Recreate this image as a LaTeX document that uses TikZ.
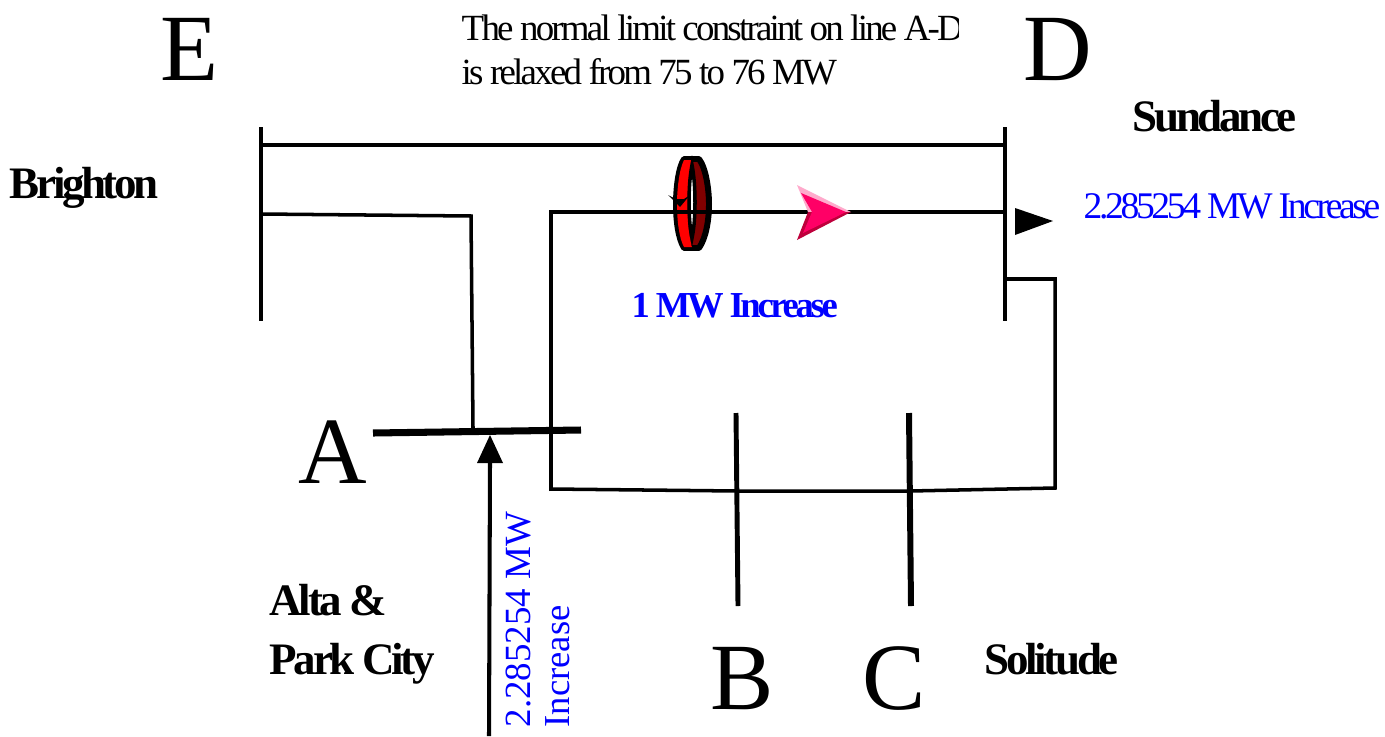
\documentclass[tikz,border=0pt]{standalone}
\usepackage{fontspec}
\setmainfont{Liberation Serif}
\newfontfamily\tightfont[LetterSpace=-7.5]{Liberation Serif}
\newfontfamily\tighterfont[LetterSpace=-9]{Liberation Serif}
\definecolor{ringdark}{RGB}{128,0,0}
\definecolor{pointer}{RGB}{255,0,102}
\definecolor{pointerlight}{RGB}{255,170,204}
\definecolor{pointerdark}{RGB}{190,0,60}
\begin{document}
\begin{tikzpicture}[x=0.01cm,y=-0.01cm,
  busbar/.style={line width=1.4pt},
  wire/.style={line width=1pt},
  bigletter/.style={anchor=base west,inner sep=0,font=\fontsize{27}{32}\selectfont},
  place/.style={anchor=base west,inner sep=0,font=\fontsize{12.8}{15}\selectfont\tightfont\bfseries},
  note/.style={anchor=base west,inner sep=0,font=\fontsize{10.5}{12.6}\selectfont\tightfont},
  bluenote/.style={note,text=blue}]
\useasboundingbox (0,0) rectangle (1385,736);
\coordinate (Etop) at (261,127);
\coordinate (Ebot) at (261,321);
\coordinate (Dtop) at (1005,127);
\coordinate (Dbot) at (1005,321);
\coordinate (Eup) at (261,145);
\coordinate (Dup) at (1005,145);
\coordinate (Emid) at (261,214);
\coordinate (Aleft) at (373,433);
\coordinate (Aright) at (581,430);
\coordinate (Ain) at (473,428);
\coordinate (Aout) at (551,491);
\coordinate (Dmid) at (1005,212);
\coordinate (Dlow) at (1005,279);
\coordinate (Btop) at (736,413);
\coordinate (Bbot) at (738,606);
\coordinate (Bmid) at (737,491);
\coordinate (Ctop) at (909,413);
\coordinate (Cbot) at (911,606);
\coordinate (Cmid) at (910,491);
\coordinate (Afeed) at (489,736);
\coordinate (Atip) at (490,435);
% buses
\draw[busbar] (Etop)--(Ebot);
\draw[busbar] (Dtop)--(Dbot);
\draw[line width=2pt] (Aleft)--(Aright);
\draw[busbar] (Btop)--(Bbot);
\draw[line width=1.7pt] (Ctop)--(Cbot);
% lines
\draw[wire] (Eup)--(Dup);
\draw[wire] (Emid)--(471,216)--(Ain);
\draw[wire] (Aout)--(551,212)--(Dmid);
\draw[wire] (551,489)--(Bmid)--(Cmid)--(1055,488)--(1055,279)--(Dlow);
\draw[wire,line width=1.15pt] (Afeed)--(490,460);
\fill (Atip)--(503,463)--(477,463)--cycle;
\fill (1015,208)--(1053,221)--(1015,235)--cycle;
% phase shifter ring
\draw[line width=1.7pt,line join=round,fill=ringdark] (684,159)--(699,159) .. controls (706,168) and (709,190) .. (709,204) .. controls (709,220) and (706,238) .. (699,248)--(684,248) .. controls (678,238) and (676,220) .. (676,204) .. controls (676,190) and (678,168) .. (684,159)--cycle;
\fill[red] (684,160)--(692,160) .. controls (686,180) and (686,230) .. (692,247)--(684,247) .. controls (679,238) and (677,220) .. (677,204) .. controls (677,190) and (679,170) .. (684,160)--cycle;
\draw[line width=1pt,fill=white] (692,165) .. controls (688,185) and (688,220) .. (692,238) .. controls (696,220) and (696,185) .. (692,165)--cycle;
\draw[wire] (672,212)--(712,212);
\fill (668,195)--(676,199)--(684,199)--(690,195)--(680,207)--cycle;
% flow pointer
\fill[pointerlight] (797,185)--(851,212)--(808,212)--cycle;
\fill[pointerdark] (797,240)--(851,212)--(808,212)--cycle;
\fill[pointer] (801,193)--(846,212)--(803,233)--(812,212)--cycle;
% labels
\node[bigletter] (Elabel) at (160,80) {E};
\node[bigletter] (Dlabel) at (1023,80) {D};
\node[bigletter] (Alabel) at (298,483) {A};
\node[bigletter] (Blabel) at (710,709) {B};
\node[bigletter] (Clabel) at (862,709) {C};
\node[place] (Brighton) at (9,198) {Brighton};
\node[place] (Sundance) at (1132,131) {Sundance};
\node[place] (Solitude) at (984,674) {Solitude};
\node[place] (Alta) at (269,615) {Alta \&};
\node[place] (ParkCity) at (269,674) {Park City};
\begin{scope}
\clip (440,0) rectangle (958,100);
\node[note] (limit) at (461,40) {The normal limit constraint on line A-D};
\end{scope}
\node[note] (relaxed) at (461,84) {is relaxed from 75 to 76 MW};
\node[bluenote,font=\fontsize{10.4}{13}\selectfont\tighterfont\bfseries] (shift) at (631,317) {1 MW Increase};
\node[bluenote,font=\fontsize{10.7}{13}\selectfont\tighterfont] (Dflow) at (1083,218) {2.285254 MW Increase};
\node[bluenote,rotate=90,font=\fontsize{10.5}{12.6}\selectfont] (Aflow) at (530,728) {2.285254 MW};
\node[bluenote,rotate=90,font=\fontsize{10.4}{13}\selectfont] (Aflowb) at (569,728) {Increase};
\end{tikzpicture}
\end{document}
